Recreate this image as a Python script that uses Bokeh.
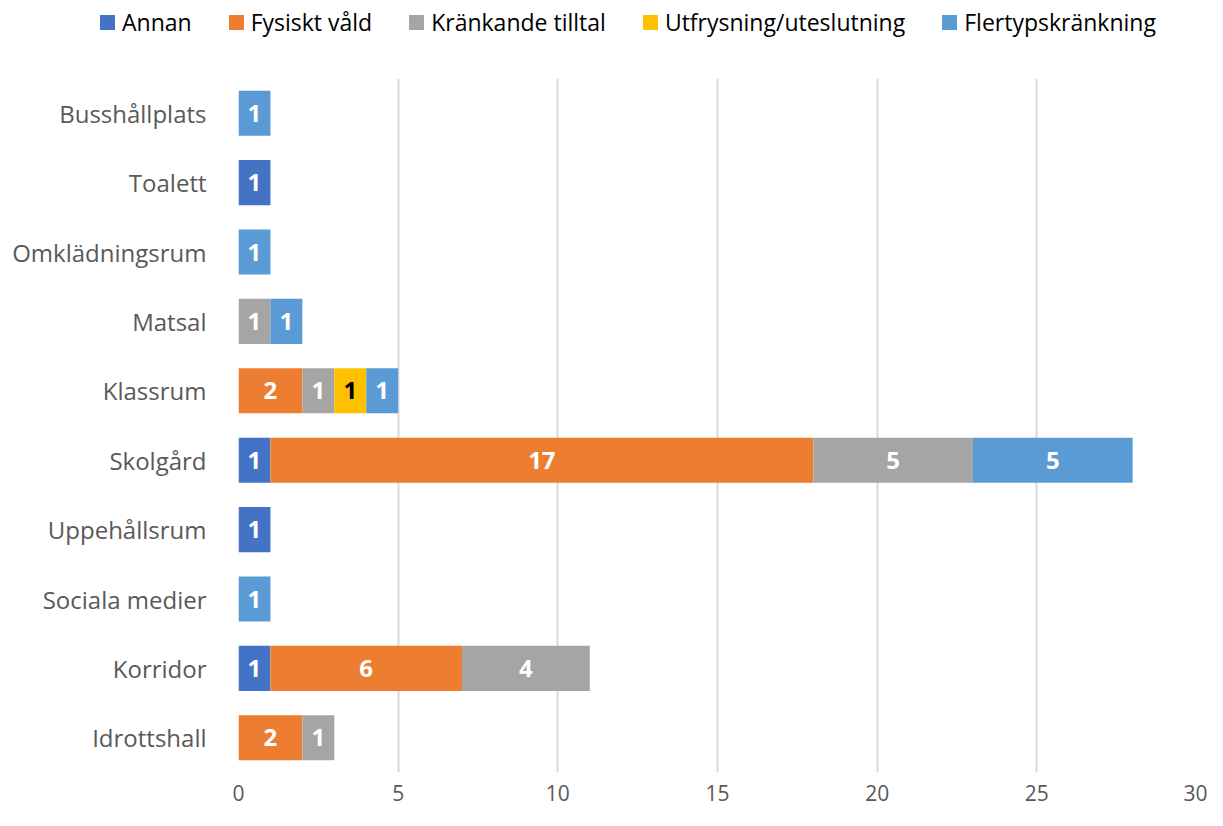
from bokeh.plotting import figure
from bokeh.layouts import column
from bokeh.models import FactorRange, Range1d, ColumnDataSource, Div
from bokeh.core.properties import value
from bokeh.embed import file_html
from bokeh.resources import INLINE

categories = ["Busshållplats", "Toalett", "Omklädningsrum", "Matsal", "Klassrum",
              "Skolgård", "Uppehållsrum", "Sociala medier", "Korridor", "Idrottshall"]
series = ["Annan", "Fysiskt våld", "Kränkande tilltal", "Utfrysning/uteslutning", "Flertypskränkning"]
annan       = [0, 1, 0, 0, 0, 1, 1, 0, 1, 0]
fysiskt     = [0, 0, 0, 0, 2, 17, 0, 0, 6, 2]
kränkande   = [0, 0, 0, 1, 1, 5, 0, 0, 4, 1]
utfrysning  = [0, 0, 0, 0, 1, 0, 0, 0, 0, 0]
flertyp     = [1, 0, 1, 1, 1, 5, 0, 1, 0, 0]
colors = ["#4472C4", "#ED7D31", "#A5A5A5", "#FFC000", "#5B9BD5"]
label_colors = ["white", "white", "white", "black", "white"]
x_ticks = [0, 5, 10, 15, 20, 25, 30]

FONT = "Open Sans"
values = [annan, fysiskt, kränkande, utfrysning, flertyp]
keys = ["s0", "s1", "s2", "s3", "s4"]
data = {"cat": categories}
for k, v in zip(keys, values):
    data[k] = v
source = ColumnDataSource(data)

# ---- legend strip (HTML) ----
items_html = "".join(
    f'<span style="display:inline-flex;align-items:center;margin-right:37px;">'
    f'<span style="display:inline-block;width:15px;height:15px;background:{c};margin-right:7px;"></span>'
    f'<span>{s}</span></span>'
    for s, c in zip(series, colors))
legend_div = Div(
    text=f'<div style="display:flex;align-items:center;height:44px;padding-left:100px;'
         f'font-family:\'{FONT}\';font-size:23px;color:#000000;white-space:nowrap;">{items_html}</div>',
    width=1207, height=44, margin=0)

# ---- main chart ----
p = figure(width=1207, height=766, output_backend="svg", toolbar_location=None,
           y_range=FactorRange(*reversed(categories)), x_range=Range1d(0, 30),
           min_border_left=238, min_border_right=11, min_border_bottom=38, min_border_top=34)

p.hbar_stack(keys, y="cat", height=0.65, color=colors, source=source, line_color=None)

# data labels at segment midpoints
lx, ly, lt, lc = [], [], [], []
for i, cat in enumerate(categories):
    left = 0
    for s, v in enumerate(values):
        val = v[i]
        if val > 0:
            lx.append(left + val / 2)
            ly.append(cat)
            lt.append(str(val))
            lc.append(label_colors[s])
        left += val
p.text(x=lx, y=ly, text=lt, text_color=lc, text_align="center", text_baseline="middle",
       text_font=value(FONT), text_font_size="24px", text_font_style="bold")

p.xaxis.ticker = x_ticks
p.xgrid.ticker = x_ticks
p.xgrid.grid_line_color = "#D9D9D9"
p.xgrid.grid_line_width = 2
p.ygrid.grid_line_color = None
p.outline_line_color = None

for ax in (p.xaxis, p.yaxis):
    ax.axis_line_color = None
    ax.major_tick_line_color = None
    ax.minor_tick_line_color = None
    ax.major_label_text_font = FONT
    ax.major_label_text_color = "#595959"
p.xaxis.major_label_text_font_size = "21px"
p.yaxis.major_label_text_font_size = "24px"
p.yaxis.major_label_standoff = 26
p.xaxis.major_label_standoff = 6
p.y_range.range_padding = 0

layout = column(legend_div, p, spacing=0)
open("out.html", "w").write(file_html(layout, INLINE))
